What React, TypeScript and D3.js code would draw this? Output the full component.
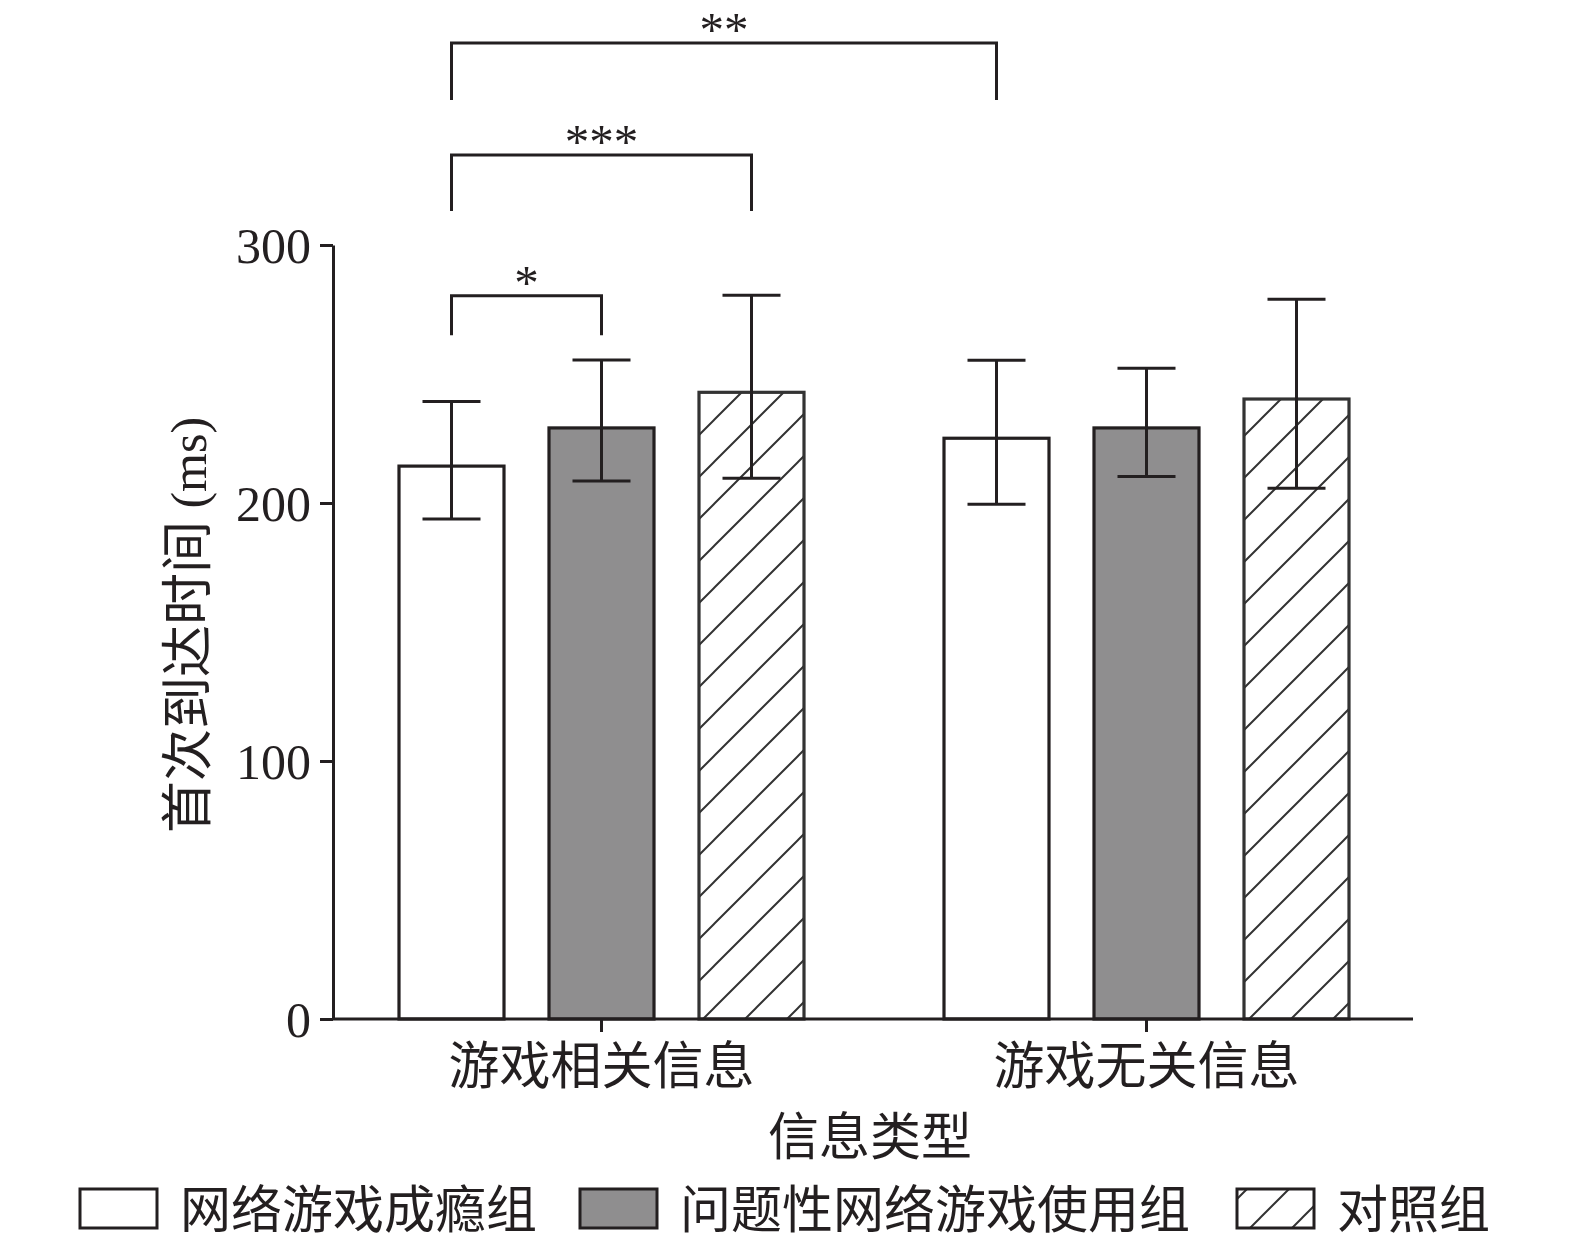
import * as d3 from "d3";
import React, { useRef, useEffect } from "react";

const categories = ["游戏相关信息", "游戏无关信息"];
const groups = ["网络游戏成瘾组", "问题性网络游戏使用组", "对照组"];

// mean, error bar up and down lengths (ms), one entry per category
const addictMean = [214.3, 225.1];
const addictUp = [25, 30.2];
const addictDown = [20.5, 25.6];
const problemMean = [229.1, 229.1];
const problemUp = [26.3, 23.1];
const problemDown = [20.6, 18.8];
const controlMean = [242.9, 240.3];
const controlUp = [37.6, 38.7];
const controlDown = [33.3, 34.6];

const yTicks = [0, 100, 200, 300];

// significance brackets: [category, group] of both ends, top and leg values
const sigLabels = ["*", "***", "**"];
const sigFrom = [[0, 0], [0, 0], [0, 0]];
const sigTo = [[0, 1], [0, 2], [1, 0]];
const sigTop = [280.3, 334.9, 378.3];
const sigLeg = [265, 313.2, 356.2];

const CJK = "'Noto Sans CJK SC', sans-serif";
const SERIF = "'Liberation Serif', 'Times New Roman', serif";
const INK = "#231f20";
const GRAY = "#8f8e8f";

const App: React.FC = () => {
  const svgRef = useRef<SVGSVGElement>(null);

  useEffect(() => {
    if (!svgRef.current) return;
    const svg = d3.select(svgRef.current);
    svg.selectAll("*").remove();

    const means = [addictMean, problemMean, controlMean];
    const ups = [addictUp, problemUp, controlUp];
    const downs = [addictDown, problemDown, controlDown];

    const x0 = d3.scaleBand<string>().domain(categories).range([329, 1419]);
    const x1 = d3
      .scaleBand<string>()
      .domain(groups)
      .range([-225, 225])
      .paddingInner(0.3)
      .paddingOuter(0.15);
    const y = d3.scaleLinear().domain([0, 300]).range([1019, 245]);

    const defs = svg.append("defs");
    const pat = defs
      .append("pattern")
      .attr("id", "hatch")
      .attr("patternUnits", "userSpaceOnUse")
      .attr("width", 42)
      .attr("height", 42);
    pat.append("rect").attr("width", 42).attr("height", 42).attr("fill", "#fff");
    pat
      .append("path")
      .attr("d", "M-10,10 L10,-10 M0,42 L42,0 M32,52 L52,32")
      .attr("stroke", "#333")
      .attr("stroke-width", 2);

    const fills = ["#fff", GRAY, "url(#hatch)"];
    const strokes = [INK, INK, "#333"];

    const barCenter = (c: number, g: number) =>
      (x0(categories[c]) as number) +
      x0.bandwidth() / 2 +
      (x1(groups[g]) as number) +
      x1.bandwidth() / 2;

    // bars
    groups.forEach((g, gi) => {
      categories.forEach((c, ci) => {
        const cx = barCenter(ci, gi);
        svg
          .append("rect")
          .attr("x", cx - x1.bandwidth() / 2)
          .attr("y", y(means[gi][ci]))
          .attr("width", x1.bandwidth())
          .attr("height", y(0) - y(means[gi][ci]))
          .attr("fill", fills[gi])
          .attr("stroke", strokes[gi])
          .attr("stroke-width", 3.2);
      });
    });

    // error bars
    groups.forEach((g, gi) => {
      categories.forEach((c, ci) => {
        const cx = barCenter(ci, gi);
        const hi = y(means[gi][ci] + ups[gi][ci]);
        const lo = y(means[gi][ci] - downs[gi][ci]);
        const eb = svg.append("g").attr("stroke", INK).attr("stroke-width", 3);
        eb.append("line").attr("x1", cx).attr("x2", cx).attr("y1", hi).attr("y2", lo);
        eb.append("line").attr("x1", cx - 29).attr("x2", cx + 29).attr("y1", hi).attr("y2", hi);
        eb.append("line").attr("x1", cx - 29).attr("x2", cx + 29).attr("y1", lo).attr("y2", lo);
      });
    });

    // y axis
    const yAxis = svg
      .append("g")
      .attr("transform", "translate(333,0)")
      .call(d3.axisLeft(y).tickValues(yTicks).tickSize(13).tickSizeOuter(0).tickPadding(9));
    yAxis.selectAll("path, line").attr("stroke", INK).attr("stroke-width", 3);
    yAxis
      .selectAll("text")
      .attr("font-family", SERIF)
      .attr("font-size", 50)
      .attr("fill", INK)
      .attr("dy", "0.34em");

    // x axis
    svg
      .append("line")
      .attr("x1", 333)
      .attr("x2", 1413)
      .attr("y1", y(0))
      .attr("y2", y(0))
      .attr("stroke", INK)
      .attr("stroke-width", 3);
    const xAxis = svg
      .append("g")
      .attr("transform", `translate(0,${y(0)})`)
      .call(d3.axisBottom(x0).tickSize(13).tickFormat(() => ""));
    xAxis.select(".domain").remove();
    xAxis.selectAll("line").attr("stroke", INK).attr("stroke-width", 3);

    categories.forEach((c) => {
      svg
        .append("text")
        .attr("x", (x0(c) as number) + x0.bandwidth() / 2)
        .attr("y", 1084)
        .attr("text-anchor", "middle")
        .attr("font-family", CJK)
        .attr("font-size", 51)
        .attr("fill", INK)
        .text(c);
    });

    svg
      .append("text")
      .attr("x", 870)
      .attr("y", 1155)
      .attr("text-anchor", "middle")
      .attr("font-family", CJK)
      .attr("font-size", 51)
      .attr("fill", INK)
      .text("信息类型");

    const yl = svg
      .append("text")
      .attr("transform", "translate(206,625) rotate(-90)")
      .attr("text-anchor", "middle")
      .attr("font-size", 52)
      .attr("fill", INK);
    yl.append("tspan").attr("font-family", CJK).text("首次到达时间");
    yl.append("tspan").attr("font-family", SERIF).attr("font-size", 50).text(" (ms)");

    // significance brackets
    sigLabels.forEach((lab, i) => {
      const xa = barCenter(sigFrom[i][0], sigFrom[i][1]);
      const xb = barCenter(sigTo[i][0], sigTo[i][1]);
      const top = y(sigTop[i]);
      const leg = y(sigLeg[i]);
      svg
        .append("path")
        .attr("d", `M${xa},${leg} L${xa},${top} L${xb},${top} L${xb},${leg}`)
        .attr("fill", "none")
        .attr("stroke", INK)
        .attr("stroke-width", 3);
      svg
        .append("text")
        .attr("x", (xa + xb) / 2)
        .attr("y", top + 3)
        .attr("text-anchor", "middle")
        .attr("font-family", SERIF)
        .attr("font-size", 49)
        .attr("fill", INK)
        .text(lab);
    });

    // legend
    const legX = [80, 580, 1237];
    groups.forEach((g, gi) => {
      svg
        .append("rect")
        .attr("x", legX[gi])
        .attr("y", 1189)
        .attr("width", 77)
        .attr("height", 39)
        .attr("fill", fills[gi])
        .attr("stroke", INK)
        .attr("stroke-width", 3);
      svg
        .append("text")
        .attr("x", legX[gi] + 100)
        .attr("y", 1228)
        .attr("font-family", CJK)
        .attr("font-size", 51)
        .attr("fill", INK)
        .text(g);
    });
  }, []);

  return (
    <svg
      ref={svgRef}
      width={1575}
      height={1244}
      style={{ position: "absolute", left: 0, top: 0, background: "#fff" }}
    ></svg>
  );
};

export default App;
